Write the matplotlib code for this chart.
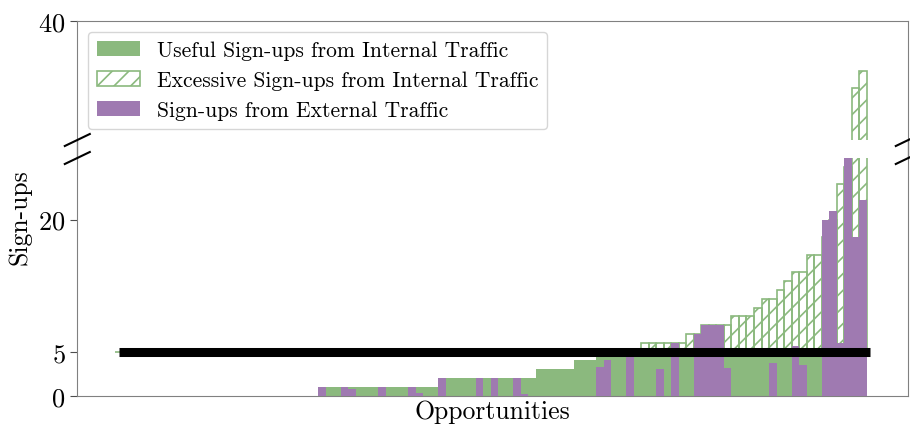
import matplotlib
matplotlib.use("Agg")
import matplotlib.pyplot as plt
from matplotlib.lines import Line2D
import numpy as np

plt.rcParams['font.family'] = 'cmr10'
plt.rcParams['mathtext.fontset'] = 'cm'
plt.rcParams['axes.formatter.use_mathtext'] = True
plt.rcParams['hatch.linewidth'] = 1.2

# Sign-ups per opportunity, sorted by internal sign-ups
internal = ([0] * 27 + [1] * 16 + [2] * 13 + [3] * 5 + [4] * 3 + [5] * 6 +
            [6] * 6 + [7] * 2 + [8] * 4 + [9] * 3 + [10] + [11] * 2 + [12] +
            [13] + [14] * 2 + [16] * 2 + [18, 20, 24, 26, 34.4, 35.8])
external = ([0] * 27 +
            [1, 0, 0, 1, 0.75, 0, 0, 0, 1, 0, 0, 0, 1, 0.3, 0, 0] +
            [2, 0, 0, 0, 0, 2, 0, 2, 0, 0, 2, 0.2, 0] +
            [0] * 8 +
            [3.3, 4, 0, 0, 5, 0, 0, 0, 3, 0, 6, 0, 0, 7, 8, 8, 8, 3.2] +
            [0, 0, 0, 0, 0, 3.7, 0, 0, 5.6, 3.5, 0, 0] +
            [20, 21, 6, 28, 18, 22.2])
target = 5

labels = ['Useful Sign-ups from Internal Traffic',
          'Excessive Sign-ups from Internal Traffic',
          'Sign-ups from External Traffic']

green = '#8bb97e'
purple = '#9f7ab1'
spine_col = '0.5'

internal = np.array(internal, dtype=float)
external = np.array(external, dtype=float)
n = len(internal)
x = np.arange(n)
useful = np.minimum(internal, target)
excess = np.maximum(internal - target, 0)

fig = plt.figure(figsize=(9.1, 4.27), dpi=100)
ax_top = fig.add_axes([0.0849, 0.6698, 0.9132, 0.2787])
ax_bot = fig.add_axes([0.0849, 0.0710, 0.9132, 0.5567])

for ax in (ax_top, ax_bot):
    b1 = ax.bar(x, useful, width=1, color=green, linewidth=0, zorder=2)
    b2 = ax.bar(x, excess, bottom=target, width=1, fill=False,
                edgecolor=green, hatch='//', linewidth=1.2, zorder=3)
    b3 = ax.bar(x, external, width=1, color=purple, linewidth=0, zorder=4)
    ax.plot([0, n], [target, target], color='black', lw=6.5, zorder=5,
            solid_capstyle='butt')
    ax.set_xlim(-5.525, 105.025)
    ax.set_xticks([])
    for s in ax.spines.values():
        s.set_color(spine_col)
    ax.tick_params(axis='y', labelsize=19, color='0.3', length=5)

ax_top.set_ylim(30, 40)
ax_top.set_yticks([40])
ax_top.spines['bottom'].set_visible(False)
ax_bot.set_ylim(0, 27)
ax_bot.set_yticks([0, 5, 20])
ax_bot.spines['top'].set_visible(False)

ax_top.legend([b1, b2, b3], labels, loc='upper left', fontsize=15.5,
              fancybox=True, framealpha=0.8)

# spines across the gap and the break marks
W, H = 910, 427
for xs in (77.3, 908.3):
    fig.add_artist(Line2D([xs / W, xs / W], [1 - 141 / H, 1 - 159 / H],
                          transform=fig.transFigure, color=spine_col, lw=1))
    for ys in (141, 159):
        fig.add_artist(Line2D([(xs - 12.5) / W, (xs + 12.5) / W],
                              [1 - (ys + 6) / H, 1 - (ys - 6) / H],
                              transform=fig.transFigure, color='black', lw=1.5))

fig.text(0.022, 0.492, 'Sign-ups', rotation=90, ha='center', va='center',
         fontsize=18.5)
fig.text(0.541, 0.035, 'Opportunities', ha='center', va='center',
         fontsize=18.5)

fig.savefig('out.png', dpi=100)
